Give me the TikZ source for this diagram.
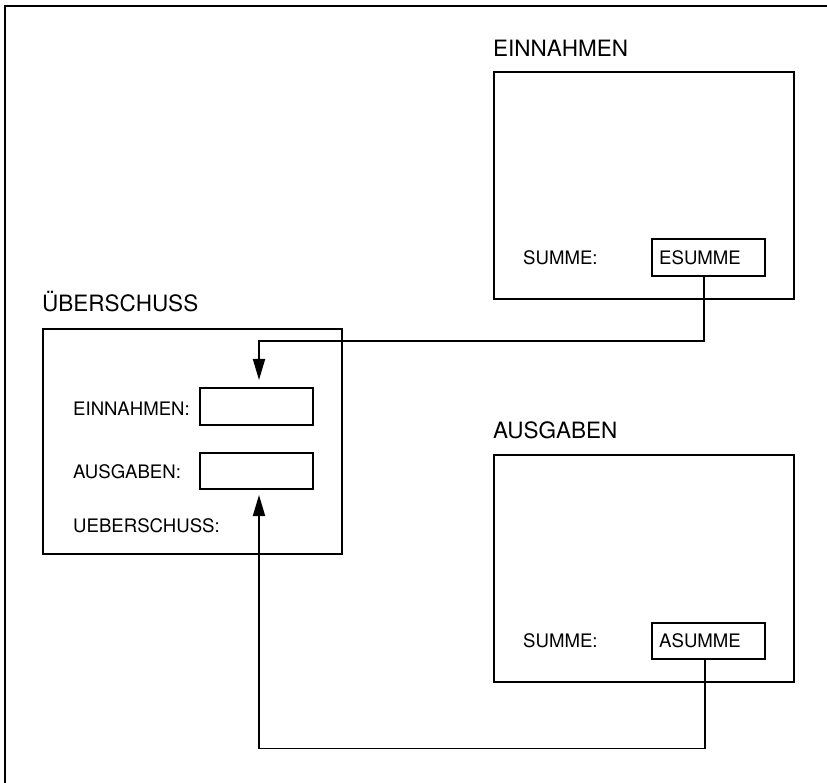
\documentclass[tikz,border=0pt]{standalone}
\usepackage{fontspec}
\setmainfont{TeX Gyre Heros}
\usetikzlibrary{arrows.meta}
\begin{document}
\begin{tikzpicture}[x=1pt,y=-1pt,
  lw/.style={line width=1.8pt},
  bigbox/.style={draw,lw,anchor=north west,inner sep=0pt,minimum width=300pt,minimum height=227pt},
  ubox/.style={draw,lw,anchor=north west,inner sep=0pt,minimum width=299pt,minimum height=225pt},
  fieldbox/.style={draw,lw,anchor=north west,inner sep=0pt,minimum width=113pt,minimum height=37pt},
  title/.style={anchor=base west,inner sep=0pt,font=\fontsize{22.5}{26}\selectfont},
  lbl/.style={anchor=base west,inner sep=0pt,font=\fontsize{18.6}{22}\selectfont},
  conn/.style={lw,line join=miter},
  arr/.style={conn,-{Triangle[length=21pt,width=12pt]}}
]
\useasboundingbox (0,0) rectangle (827,783);
% outer frame (top and left edges visible)
\draw[lw] (827,6) -- (5,6) -- (5,783);

% EINNAHMEN
\node[title] (tein) at (493,57) {EINNAHMEN};
\node[bigbox] (ein) at (493,71) {};
\node[lbl] (sum1) at (523,265) {SUMME:};
\node[fieldbox,minimum height=37pt] (esumme) at (651,238) {};
\node[lbl] (tes) at (659,265) {ESUMME};

% UEBERSCHUSS
\node[title] (tub) at (42,312) {ÜBERSCHUSS};
\node[ubox] (ub) at (42,328) {};
\node[lbl] (lein) at (73,415) {EINNAHMEN:};
\node[fieldbox] (f1) at (199,387) {};
\node[lbl] (laus) at (73,478.5) {AUSGABEN:};
\node[fieldbox,minimum height=36pt] (f2) at (199,452) {};
\node[lbl] (lueb) at (73,532) {UEBERSCHUSS:};

% AUSGABEN
\node[title] (taus) at (493,438.5) {AUSGABEN};
\node[bigbox] (aus) at (493,454) {};
\node[lbl] (sum2) at (523,647) {SUMME:};
\node[fieldbox,minimum height=36pt] (asumme) at (651,622) {};
\node[lbl] (tas) at (659,647) {ASUMME};

% connectors
\coordinate (t1) at (259,380);
\coordinate (t2) at (259,495);
\draw[arr] (esumme.south -| 704,0) -- (704,341) -| (t1);
\draw[arr] (asumme.south -| 705,0) -- (705,748.5) -| (t2);
\end{tikzpicture}
\end{document}
